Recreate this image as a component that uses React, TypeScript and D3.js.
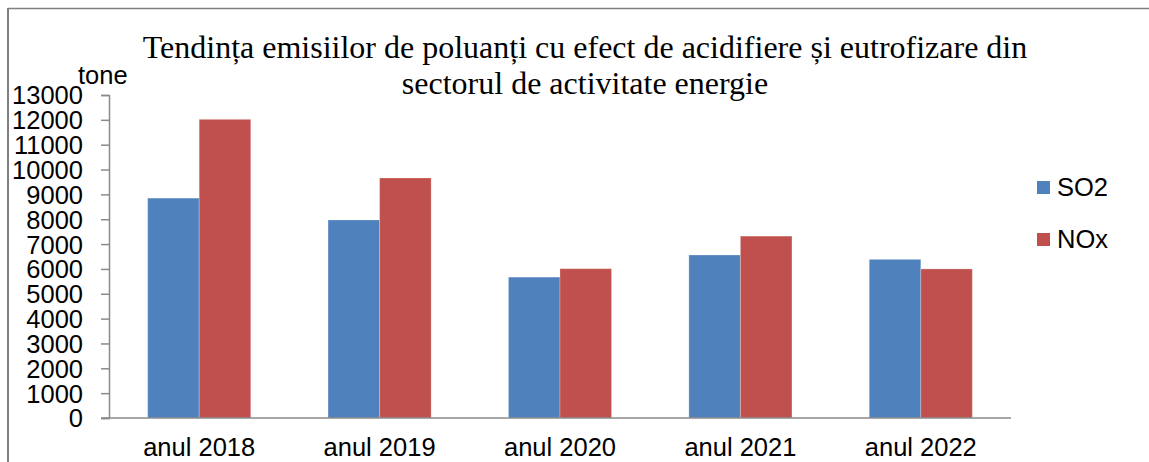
import { useRef, useEffect } from 'react';
import * as d3 from "d3";

const categories = ["anul 2018", "anul 2019", "anul 2020", "anul 2021", "anul 2022"];
const seriesNames = ["SO2", "NOx"];
const so2 = [8850, 7970, 5670, 6560, 6385];
const nox = [12020, 9660, 6010, 7320, 6000];
const yTicks = [0, 1000, 2000, 3000, 4000, 5000, 6000, 7000, 8000, 9000, 10000, 11000, 12000, 13000];
const titleLines = [
  "Tendința emisiilor de poluanți cu efect de acidifiere și eutrofizare din",
  "sectorul de activitate energie",
];
const unitLabel = "tone";
const colors = ["#4F81BD", "#C0504D"];

const W = 1149, H = 462;
const sans = "'Liberation Sans', Arial, sans-serif";
const serif = "'Liberation Serif', 'Times New Roman', serif";
const axisColor = "#8a8a8a";

const App = () => {
  const ref = useRef<SVGSVGElement>(null);

  useEffect(() => {
    const $svg = d3.select(ref.current);
    $svg.selectAll("*").remove();

    // outer frame (top and left edges only visible)
    $svg.append("line").attr("x1", 8).attr("x2", W).attr("y1", 8.5).attr("y2", 8.5)
      .attr("stroke", "#808080").attr("stroke-width", 1.5);
    $svg.append("line").attr("x1", 8).attr("x2", 8).attr("y1", 8).attr("y2", H)
      .attr("stroke", "#808080").attr("stroke-width", 2);

    const x0 = d3.scaleBand().domain(categories).range([109, 1011]).paddingInner(3 / 7).paddingOuter(1.5 / 7);
    const x1 = d3.scaleBand().domain(seriesNames).range([0, x0.bandwidth()]);
    const y = d3.scaleLinear().domain([0, 13000]).range([418, 95]);

    const data = [so2, nox];

    // bars
    const groups = $svg.append("g").selectAll("g").data(categories).enter().append("g")
      .attr("transform", d => `translate(${x0(d)},0)`);
    groups.selectAll("rect")
      .data((_, i) => seriesNames.map((s, k) => ({ s, v: data[k][i], k })))
      .enter().append("rect")
      .attr("x", d => x1(d.s)!)
      .attr("width", x1.bandwidth())
      .attr("y", d => y(d.v))
      .attr("height", d => y(0) - y(d.v))
      .attr("fill", d => colors[d.k])
      .attr("stroke", "#ffffff").attr("stroke-opacity", 0.25).attr("stroke-width", 1);

    // y axis
    const yAxis = $svg.append("g").attr("transform", "translate(109,0)")
      .call(d3.axisLeft(y).tickValues(yTicks).tickSize(8).tickPadding(18).tickFormat(d3.format("d")));
    yAxis.select(".domain").attr("stroke", axisColor).attr("stroke-width", 1.5);
    yAxis.selectAll(".tick line").attr("stroke", axisColor).attr("stroke-width", 1.5);
    yAxis.selectAll(".tick text").attr("fill", "#000").attr("font-family", sans).attr("font-size", 25.5)
      .attr("dy", "0.35em");

    // x axis
    $svg.append("line").attr("x1", 101).attr("x2", 1011).attr("y1", y(0)).attr("y2", y(0))
      .attr("stroke", axisColor).attr("stroke-width", 1.5);
    $svg.append("g").selectAll("text").data(categories).enter().append("text")
      .attr("x", d => x0(d)! + x0.bandwidth() / 2)
      .attr("y", 456)
      .attr("text-anchor", "middle")
      .attr("font-family", sans).attr("font-size", 25.5).attr("fill", "#000")
      .text(d => d);

    // unit
    $svg.append("text").attr("x", 78).attr("y", 84).attr("font-family", sans).attr("font-size", 25.5)
      .attr("fill", "#000").text(unitLabel);

    // title
    $svg.append("g").selectAll("text").data(titleLines).enter().append("text")
      .attr("x", 585).attr("y", (_, i) => 58 + i * 36)
      .attr("text-anchor", "middle").attr("font-family", serif).attr("font-size", 32).attr("fill", "#000")
      .text(d => d);

    // legend
    const legend = $svg.append("g").selectAll("g").data(seriesNames).enter().append("g")
      .attr("transform", (_, i) => `translate(1037,${181 + i * 52})`);
    legend.append("rect").attr("width", 13).attr("height", 13).attr("fill", (_, i) => colors[i]);
    legend.append("text").attr("x", 20).attr("y", 14.5).attr("font-family", sans).attr("font-size", 25.5)
      .attr("fill", "#000").text(d => d);
  }, []);

  return <svg ref={ref} width={W} height={H} style={{ position: "absolute", left: 0, top: 0, background: "#fff" }} />;
};

export default App;
